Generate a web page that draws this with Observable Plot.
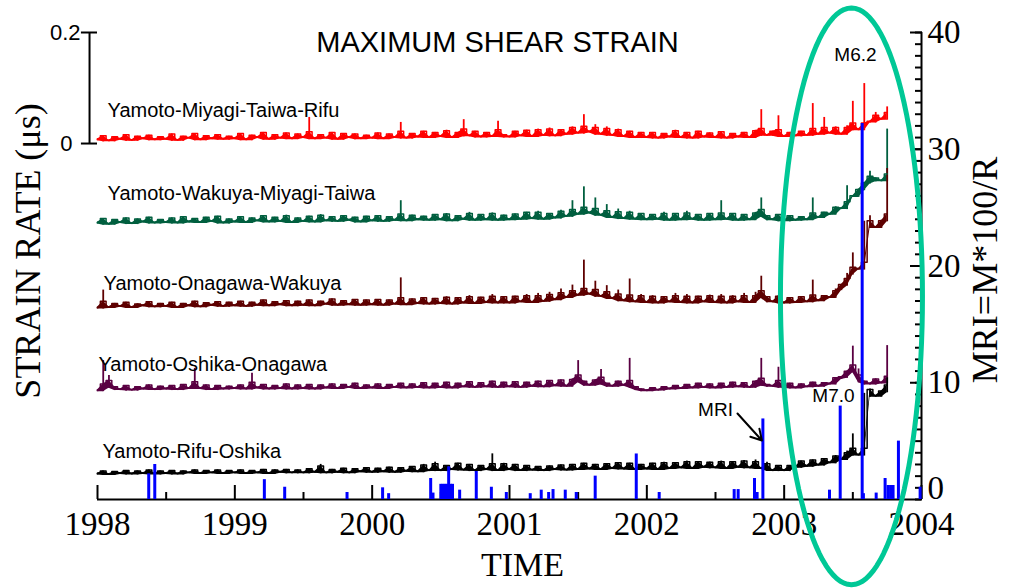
<!DOCTYPE html>
<html><head><meta charset="utf-8">
<script src="https://cdn.jsdelivr.net/npm/d3@7"></script>
<script src="https://cdn.jsdelivr.net/npm/@observablehq/plot@0.6"></script>
<style>body{margin:0;background:#fff}</style>
</head><body><div id="chart"></div>
<script>
// ---------- DATA ----------
// Strain-rate traces, sampled every half month from 1998.0, units: 1e-3 µs (above each trace's own zero)
const seriesNames = ["Yamoto-Miyagi-Taiwa-Rifu","Yamoto-Wakuya-Miyagi-Taiwa","Yamoto-Onagawa-Wakuya","Yamoto-Oshika-Onagawa","Yamoto-Rifu-Oshika"];
const startYear = 1998;
const samplesPerYear = 24;
const redStrain = [8,14,6,12,9,16,7,13,10,15,8,12, 9,17,7,13,11,18,8,14,10,16,9,13, 10,18,8,15,12,20,9,16,11,19,10,17,
 12,47,10,16,11,20,9,18,12,17,10,15, 11,19,10,17,12,38,11,18,13,22,12,20, 14,24,12,20,43,15,22,13,20,14,40,16,
 13,22,15,24,14,26,16,28,15,25,18,30, 20,52,22,34,18,30,16,26,14,22,12,20, 12,20,11,18,13,24,12,20,11,22,13,19,
 12,21,11,18,13,20,12,24,61,16,22,50, 14,20,15,22,16,72,18,47,20,30,18,32, 76,26,108,40,56,45,66];
const greenStrain = [8,15,6,13,9,16,7,14,10,17,8,13, 9,16,8,18,10,15,9,17,11,19,8,14, 10,18,9,16,12,20,10,17,11,21,9,16,
 11,19,10,22,12,18,11,20,13,17,10,19, 12,20,11,18,13,47,12,21,14,19,13,22, 14,24,12,20,15,26,13,22,14,25,13,21,
 14,23,15,26,16,28,15,24,17,30,20,47, 24,72,26,52,22,40,18,32,16,28,15,24, 14,22,15,26,13,24,14,28,15,22,13,24,
 14,47,15,24,13,22,14,26,52,20,14,22, 12,20,13,18,14,52,18,26,24,36,34,74, 56,68,80,100,88,84,176];
const maroonStrain = [5,36,6,12,8,14,6,11,9,15,7,12, 8,14,6,12,9,16,7,13,10,15,8,14, 9,16,8,14,10,18,9,15,11,17,9,16,
 10,18,9,16,12,20,10,17,11,19,10,18, 11,19,10,18,12,58,11,20,13,22,12,21, 13,24,12,22,14,26,13,23,15,28,14,24,
 14,25,16,28,15,30,17,32,20,38,24,45, 28,90,30,52,26,44,22,36,18,56,16,28, 15,26,14,24,16,30,15,28,14,25,16,27,
 15,28,14,26,16,30,15,32,61,24,16,26, 14,22,15,24,16,54,18,26,24,38,46,66, 103,75,160,170,150,162,255];
const purpleStrain = [6,59,32,12,8,14,7,12,9,15,8,13, 9,14,8,16,10,45,10,15,8,14,9,13, 10,15,9,36,11,16,9,14,10,17,9,15,
 10,16,9,15,11,17,10,16,12,18,10,15, 11,17,10,16,12,18,11,17,12,19,11,18, 12,20,11,18,13,21,12,19,13,22,12,20,
 13,21,12,20,14,22,13,23,15,24,14,26, 59,22,16,24,43,18,14,22,16,63,12,8, 6,10,7,12,9,14,10,16,11,18,12,17,
 11,18,12,20,13,19,12,22,63,16,14,47, 12,18,11,17,13,20,14,19,18,28,30,40, 85,44,22,18,26,20,86];
const blackStrain = [6,10,5,9,7,11,6,10,7,12,6,10, 7,11,6,10,8,12,7,11,8,12,7,11, 8,12,7,11,8,13,7,12,9,13,8,12,
 8,14,9,22,8,13,9,15,8,14,10,16, 9,15,10,17,9,16,11,18,10,22,12,26, 12,20,14,24,13,22,12,20,14,41,12,24,
 14,22,12,20,13,18,12,19,14,21,13,22, 14,24,15,22,14,23,16,25,15,24,14,22, 15,24,14,26,16,25,17,28,16,27,18,26,
 17,28,16,27,18,29,17,30,16,26,12,20, 12,20,18,28,20,30,22,32,26,38,32,46, 77,40,150,158,146,154,178];
const seriesValues = [redStrain, greenStrain, maroonStrain, purpleStrain, blackStrain];

// MRI = M*100/R events
const mriDates = [1998.373,1998.417,1999.215,1999.363,1999.817,2000.076,2000.12,2000.426,2000.443,2000.50,2000.515,2000.53,2000.545,2000.557,2000.57,2000.585,2000.637,2000.758,2000.868,2000.977,2001.151,2001.231,2001.285,2001.317,2001.406,2001.486,2001.624,2001.923,2002.09,2002.636,2002.665,2002.784,2002.803,2002.845,2003.33,2003.408,2003.568,2003.577,2003.67,2003.735,2003.757,2003.775,2003.793,2003.832,2003.99];
const mriValues = [2.2,3.0,1.7,1.05,0.6,1.0,0.5,1.8,0.55,1.3,1.3,1.3,1.3,2.8,1.3,1.3,0.8,2.4,1.05,0.6,0.5,0.8,0.6,0.85,0.8,0.6,2.0,3.9,0.6,0.85,0.85,1.8,0.6,6.9,0.8,8.0,32.2,0.5,0.55,1.8,1.2,1.2,1.2,5.0,1.05];

const yearTicks = [1998,1999,2000,2001,2002,2003,2004];
const halfYearTicks = [1998.5,1999.5,2000.5,2001.5,2002.5,2003.5];
const mriMajorTicks = [10,20,30,40];
const mriMinorTicks = d3.range(0, 41);
const strainBarTicks = [0, 0.2];

// ---------- LAYOUT / STYLE ----------
const seriesColors = ["#ff0000","#005f3f","#5e0000","#5a0042","#000000"];
const seriesOffsets = [0, -0.15, -0.30, -0.45, -0.60]; // µs, vertical stacking
const labelX = [1998.073, 1998.073, 1998.044, 1998.007, 1998.036];
const labelLift = [0.047, 0.048, 0.037, 0.041, 0.034]; // µs above trace zero
const STRAIN_ZERO = 30.49, STRAIN_TOP = 40, STRAIN_SPAN = 0.2; // strain bar mapped onto MRI axis
const strainToY = s => STRAIN_ZERO + s * (STRAIN_TOP - STRAIN_ZERO) / STRAIN_SPAN;
const BAR_X = 1997.942;
const BAND = 11; // filled core thickness, 1e-3 µs (style)
const serif = "Liberation Serif", sans = "Liberation Sans";

// each trace: filled core along the local lows + a thin vertical stroke up to every sample
const traceData = seriesValues.map((vals, k) =>
  vals.map((v, i) => {
    const lo = Math.min(vals[Math.max(0, i - 1)], v, vals[Math.min(vals.length - 1, i + 1)]);
    return {
      t: startYear + i / samplesPerYear,
      y: strainToY(seriesOffsets[k] + v / 1000),
      b1: strainToY(seriesOffsets[k] + (lo - 3) / 1000),
      b2: strainToY(seriesOffsets[k] + Math.min(v, lo + BAND) / 1000)
    };
  }));
const mri = mriDates.map((d, i) => ({t: d, v: mriValues[i]}));

// ellipse annotation in data coordinates
const ell = {cx: 2003.49, cy: 17.4, rx: 0.517, ry: 24.7};
const ellipse = d3.range(0, 121).map(j => {
  const a = j / 120 * 2 * Math.PI;
  return {t: ell.cx + ell.rx * Math.cos(a), y: ell.cy + ell.ry * Math.sin(a)};
});

const marks = [
  // x axis base line and ticks (pointing up)
  Plot.ruleY([0], {strokeWidth: 2}),
  Plot.axisX({ticks: yearTicks, tickSize: -14, strokeWidth: 2, tickFormat: () => "", label: null}),
  Plot.axisX({ticks: halfYearTicks, tickSize: -7, strokeWidth: 2, tickFormat: () => "", label: null}),
  Plot.axisX({ticks: yearTicks, tickSize: 0, tickPadding: 12, tickFormat: d => String(d), label: null,
    fontSize: 33, fontFamily: serif, fill: "black"}),
  // right MRI axis
  Plot.ruleX([2004], {y1: 0, y2: 40, strokeWidth: 2}),
  Plot.axisY({anchor: "right", ticks: mriMinorTicks, tickSize: -7, strokeWidth: 2, tickFormat: () => "", label: null}),
  Plot.axisY({anchor: "right", ticks: mriMajorTicks, tickSize: -12, strokeWidth: 2, tickFormat: () => "", label: null}),
  Plot.axisY({anchor: "right", ticks: mriMajorTicks, tickSize: 0, tickPadding: 6, tickFormat: d => String(d), label: null,
    fontSize: 33, fontFamily: serif, fill: "black"}),
  Plot.text([0], {x: 2004, y: d => d, text: d => String(d), dx: 6, dy: -11, textAnchor: "start",
    fontSize: 33, fontFamily: serif, fill: "black"}),
  // strain scale bar
  Plot.ruleX([BAR_X], {y1: strainToY(0), y2: strainToY(STRAIN_SPAN), strokeWidth: 2}),
  Plot.ruleY(strainBarTicks, {y: d => strainToY(d), x1: 1997.883, x2: 1998.0, strokeWidth: 2}),
  Plot.text([0.2], {x: BAR_X, y: d => strainToY(d), text: d => "0.2", dx: -9, textAnchor: "end", fontSize: 22, fontFamily: sans}),
  Plot.text([0], {x: BAR_X, y: d => strainToY(d), text: d => "0", dx: -17, textAnchor: "end", fontSize: 22, fontFamily: sans}),
  // strain traces: filled core + vertical spikes + thin connecting line
  ...traceData.map((d, k) => Plot.areaY(d, {x: "t", y1: "b1", y2: "b2", fill: seriesColors[k]})),
  ...traceData.map((d, k) => Plot.ruleX(d, {x: "t", y1: "b1", y2: "y", stroke: seriesColors[k], strokeWidth: 1.8})),
  ...traceData.map((d, k) => Plot.line(d, {x: "t", y: "b2", stroke: seriesColors[k], strokeWidth: 1.5, curve: "step"})),
  // MRI bars
  Plot.ruleX(mri, {x: "t", y1: 0, y2: "v", stroke: "#0000ff", strokeWidth: 3}),
  // trace labels
  Plot.text(seriesNames, {x: (d, i) => labelX[i], y: (d, i) => strainToY(seriesOffsets[i] + labelLift[i]),
    text: d => d, textAnchor: "start", lineAnchor: "bottom", fontSize: 20, fontFamily: sans, fill: "black"}),
  // titles
  Plot.text(["MAXIMUM SHEAR STRAIN"], {frameAnchor: "top", text: d => d, dx: -12, dy: 19, lineAnchor: "bottom",
    fontSize: 29, fontFamily: sans, fill: "black"}),
  Plot.text(["TIME"], {frameAnchor: "bottom", text: d => d, dx: 13, dy: 76, lineAnchor: "bottom",
    fontSize: 34, fontFamily: serif, fill: "black"}),
  Plot.text(["STRAIN RATE (μs)"], {frameAnchor: "left", text: d => d, rotate: -90, dx: -69, dy: -15,
    textAnchor: "middle", fontSize: 36, fontFamily: serif, fill: "black"}),
  Plot.text(["MRI=M*100/R"], {frameAnchor: "right", text: d => d, rotate: -90, dx: 64, dy: 4,
    textAnchor: "middle", fontSize: 36, fontFamily: serif, fill: "black"}),
  // annotations
  Plot.text(["M6.2"], {x: 2003.519, y: 37.6, text: d => d, lineAnchor: "bottom", fontSize: 19, fontFamily: sans}),
  Plot.text(["M7.0"], {x: 2003.359, y: 8.31, text: d => d, lineAnchor: "bottom", fontSize: 19, fontFamily: sans}),
  Plot.text(["MRI"], {x: 2002.5, y: 7.19, text: d => d, lineAnchor: "bottom", fontSize: 19, fontFamily: sans}),
  Plot.arrow([0], {x1: 2002.66, y1: 7.37, x2: 2002.838, y2: 5.05, strokeWidth: 2, headLength: 12, stroke: "black"}),
  Plot.line(ellipse, {x: "t", y: "y", stroke: "#00c896", strokeWidth: 5})
];

const chart = Plot.plot({
  width: 1011, height: 588,
  marginLeft: 97, marginRight: 90, marginTop: 32, marginBottom: 89,
  x: {domain: [1998, 2004], axis: null},
  y: {domain: [0, 40], axis: null},
  style: {background: "white", overflow: "visible"},
  marks
});
document.getElementById("chart").appendChild(chart);
</script>
</body></html>
